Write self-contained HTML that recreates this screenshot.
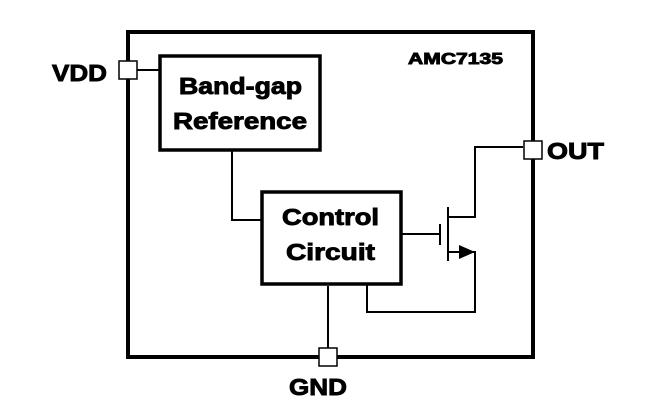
<!DOCTYPE html>
<html><head><style>
html,body{margin:0;padding:0;background:#fff;}
svg text{font-family:"Liberation Sans",Arial,sans-serif;font-weight:bold;fill:#000;stroke:#000;stroke-width:0.9;}
</style></head><body>
<svg width="664" height="412" viewBox="0 0 664 412" xmlns="http://www.w3.org/2000/svg">
<rect x="128" y="32" width="405" height="325" fill="none" stroke="#000" stroke-width="4"/>
<rect x="160" y="56" width="160" height="94" fill="#fff" stroke="#000" stroke-width="3.5"/>
<rect x="262" y="192" width="139" height="92" fill="#fff" stroke="#000" stroke-width="3.5"/>
<g stroke="#000" stroke-width="2" fill="none">
<line x1="137" y1="70" x2="160" y2="70"/>
<polyline points="232,151 232,220 262,220"/>
<line x1="328" y1="286" x2="328" y2="348"/>
<line x1="402" y1="234" x2="440" y2="234"/>
<line x1="440" y1="224" x2="440" y2="245"/>
<line x1="448" y1="207" x2="448" y2="261"/>
<polyline points="448,217 475,217 475,147 523,147"/>
<polyline points="448,252 475,252 475,312 367,312 367,285"/>
</g>
<polygon points="459,245 475,252 459,259" fill="#000"/>
<rect x="119" y="61" width="18" height="18" fill="#fff" stroke="#000" stroke-width="1.5"/>
<rect x="524" y="141" width="18" height="18" fill="#fff" stroke="#000" stroke-width="1.5"/>
<rect x="319" y="348" width="18" height="18" fill="#fff" stroke="#000" stroke-width="1.5"/>
<text x="179" y="94" font-size="23" textLength="123" lengthAdjust="spacingAndGlyphs">Band-gap</text>
<text x="173" y="129" font-size="23" textLength="134" lengthAdjust="spacingAndGlyphs">Reference</text>
<text x="282" y="225" font-size="23" textLength="97" lengthAdjust="spacingAndGlyphs">Control</text>
<text x="286" y="260" font-size="23" textLength="89" lengthAdjust="spacingAndGlyphs">Circuit</text>
<text x="52" y="81" font-size="23" textLength="55" lengthAdjust="spacingAndGlyphs">VDD</text>
<text x="547" y="159" font-size="23" textLength="57" lengthAdjust="spacingAndGlyphs">OUT</text>
<text x="289" y="395" font-size="23" textLength="58" lengthAdjust="spacingAndGlyphs">GND</text>
<text x="408" y="64" font-size="16" textLength="95" lengthAdjust="spacingAndGlyphs">AMC7135</text>
</svg>
</body></html>
